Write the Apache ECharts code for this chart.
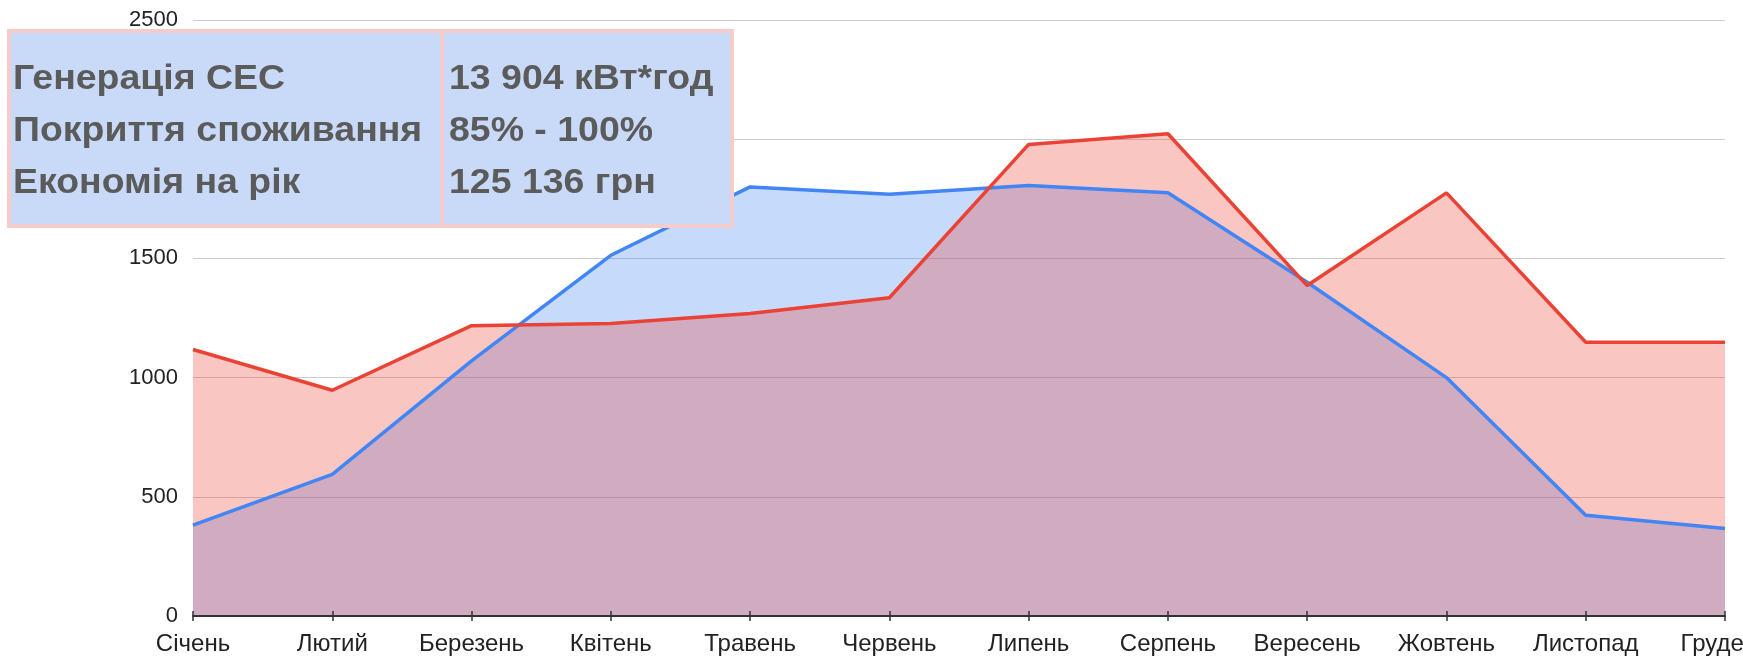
<!DOCTYPE html>
<html>
<head>
<meta charset="utf-8">
<script src="https://cdn.jsdelivr.net/npm/echarts@6/dist/echarts.min.js"></script>
<style>
html,body{margin:0;padding:0;background:#fff;}
#chart{width:1743px;height:657px;}
</style>
</head>
<body>
<div id="chart"></div>
<script>
const months = ['Січень','Лютий','Березень','Квітень','Травень','Червень','Липень','Серпень','Вересень','Жовтень','Листопад','Грудень'];
const generation = [381, 594, 1070, 1513, 1800, 1769, 1806, 1775, 1400, 1000, 423, 367];
const consumption = [1118, 947, 1218, 1227, 1269, 1335, 1978, 2023, 1386, 1775, 1148, 1148];
const tableLabels = ['Генерація СЕС', 'Покриття споживання', 'Економія на рік'];
const tableValues = ['13 904 кВт*год', '85% - 100%', '125 136 грн'];

const chart = echarts.init(document.getElementById('chart'));
const FONT = '"Liberation Sans", Arial, sans-serif';
const textColor = '#5b5b5b';
const rowY = [79, 131, 183];

const graphics = [
  { type: 'rect', z: 100, shape: { x: 9, y: 31, width: 723, height: 195 },
    style: { fill: '#c9daf8', stroke: '#f4cccc', lineWidth: 4 } },
  { type: 'line', z: 101, shape: { x1: 442, y1: 31, x2: 442, y2: 226 },
    style: { stroke: '#f4cccc', lineWidth: 4 } }
];
tableLabels.forEach((t, i) => {
  graphics.push({ type: 'text', z: 102, x: 13, y: rowY[i], scaleX: 1.07,
    style: { text: t, x: 0, y: 0, fill: textColor, font: 'bold 35px ' + FONT, verticalAlign: 'middle', align: 'left' } });
});
tableValues.forEach((t, i) => {
  graphics.push({ type: 'text', z: 102, x: 449, y: rowY[i], scaleX: 1.07,
    style: { text: t, x: 0, y: 0, fill: textColor, font: 'bold 35px ' + FONT, verticalAlign: 'middle', align: 'left' } });
});

chart.setOption({
  animation: false,
  backgroundColor: '#ffffff',
  grid: { left: 193, right: 18, top: 20, bottom: 41, containLabel: false, outerBoundsMode: 'none' },
  xAxis: [
    { type: 'category', data: months, boundaryGap: false, z: 5,
      axisLine: { lineStyle: { color: '#333333', width: 2 } },
      axisTick: { show: true, alignWithLabel: true, length: 5, lineStyle: { color: '#333333', width: 1.5 } },
      axisLabel: { interval: 0, margin: 16, color: '#222222', fontSize: 24, fontFamily: FONT, hideOverlap: false },
      splitLine: { show: false } },
    { type: 'category', data: months, boundaryGap: false, position: 'bottom', z: 5,
      axisLine: { show: false },
      axisTick: { show: true, inside: true, length: 5, lineStyle: { color: '#333333', width: 1.5 } },
      axisLabel: { show: false },
      splitLine: { show: false } }
  ],
  yAxis: {
    type: 'value', min: 0, max: 2500, interval: 500,
    axisLine: { show: false }, axisTick: { show: false },
    axisLabel: { margin: 15, color: '#222222', fontSize: 22, fontFamily: FONT, formatter: v => String(v) },
    splitLine: { lineStyle: { color: '#cccccc', width: 1 } }
  },
  series: [
    { name: 'Генерація', type: 'line', data: generation, symbol: 'none', xAxisIndex: 0,
      lineStyle: { color: '#4285f4', width: 3.5 }, itemStyle: { color: '#4285f4' },
      areaStyle: { color: '#4285f4', opacity: 0.3 } },
    { name: 'Споживання', type: 'line', data: consumption, symbol: 'none', xAxisIndex: 0,
      lineStyle: { color: '#ea4335', width: 3.5 }, itemStyle: { color: '#ea4335' },
      areaStyle: { color: '#ea4335', opacity: 0.3 } }
  ],
  graphic: graphics
});
</script>
</body>
</html>
